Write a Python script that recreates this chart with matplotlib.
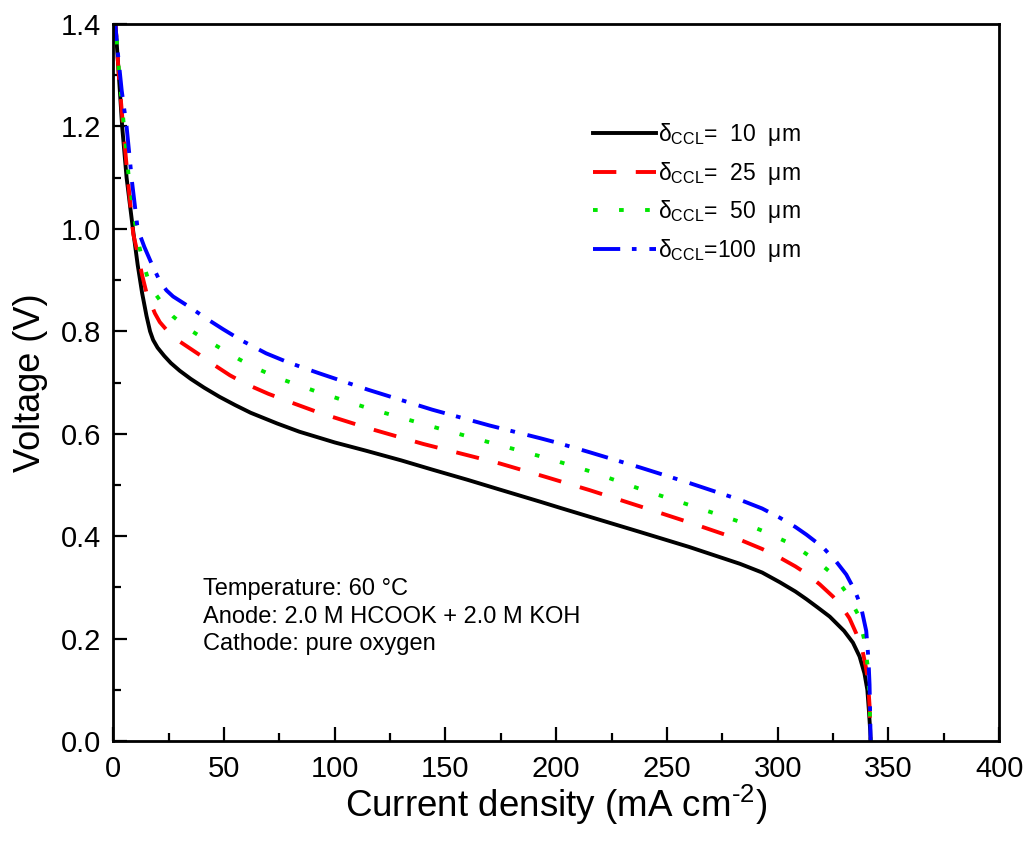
import matplotlib
matplotlib.use("Agg")
import matplotlib.pyplot as plt
from matplotlib.ticker import MultipleLocator, FormatStrFormatter

plt.rcParams['font.family'] = ['Liberation Sans', 'DejaVu Sans']
plt.rcParams['mathtext.fontset'] = 'custom'
plt.rcParams['mathtext.rm'] = 'Liberation Sans'
plt.rcParams['mathtext.it'] = 'Liberation Sans:italic'
plt.rcParams['mathtext.bf'] = 'Liberation Sans:bold'

# ---- data ----
x_10 = [0.5, 1, 2.5, 4, 6, 9, 11, 13, 15, 16.6, 18, 20, 23, 26, 30, 35, 41, 48, 55, 62, 74,
        84, 100, 114, 130, 144, 160, 174.5, 193, 202, 215, 238, 260, 283, 293, 301, 308, 313,
        318, 323.5, 330, 334, 337, 339.2, 340.5, 341.2, 341.8, 342]
v_10 = [1.42, 1.398, 1.30, 1.2, 1.10, 0.995, 0.93, 0.875, 0.83, 0.80, 0.783, 0.768, 0.752,
        0.738, 0.723, 0.707, 0.69, 0.672, 0.656, 0.641, 0.620, 0.604, 0.583, 0.567, 0.548,
        0.530, 0.510, 0.491, 0.467, 0.455, 0.438, 0.408, 0.379, 0.346, 0.329, 0.310, 0.292,
        0.277, 0.261, 0.243, 0.215, 0.192, 0.165, 0.132, 0.10, 0.06, 0.02, 0.0]

x_25 = [0.5, 1, 2.5, 4.4, 6.5, 9, 10.5, 13, 15, 18.8, 21, 24, 30, 39, 46, 52.7, 60, 70, 81,
        93, 115, 140, 160, 174.5, 195, 215, 238, 260, 283, 293, 301, 308, 313, 319, 325, 329,
        332.4, 335.5, 338.4, 339.8, 340.7, 341.5, 342]
v_25 = [1.42, 1.40, 1.30, 1.2, 1.10, 0.99, 0.962, 0.91, 0.875, 0.835, 0.818, 0.803, 0.78,
        0.754, 0.733, 0.714, 0.697, 0.678, 0.660, 0.641, 0.611, 0.580, 0.558, 0.542, 0.516,
        0.490, 0.458, 0.427, 0.393, 0.375, 0.358, 0.341, 0.327, 0.306, 0.282, 0.262, 0.240,
        0.21, 0.175, 0.145, 0.12, 0.07, 0.0]

x_50 = [0.5, 1, 2.7, 4.8, 7, 9.5, 11.5, 13.5, 16, 18.5, 21, 24, 27, 33.8, 40, 49.6, 57, 65,
        75, 83.5, 92, 115, 144, 170, 197, 215, 238, 260, 283, 294, 304, 311, 317.5, 323.4, 327,
        331, 336.2, 339, 340.7, 341.5, 342]
v_50 = [1.42, 1.40, 1.30, 1.2, 1.10, 1.02, 0.97, 0.933, 0.898, 0.876, 0.861, 0.843, 0.829,
        0.805, 0.788, 0.764, 0.745, 0.727, 0.708, 0.695, 0.682, 0.650, 0.614, 0.583, 0.551,
        0.527, 0.492, 0.461, 0.428, 0.409, 0.389, 0.371, 0.352, 0.331, 0.314, 0.29, 0.248, 0.2,
        0.145, 0.08, 0.0]

x_100 = [0.5, 1.9, 3.8, 6, 8.5, 11, 14, 17.3, 21, 24, 27, 34.6, 42, 49.6, 58, 69, 78, 87, 93,
         115, 144, 170, 193, 200, 215, 238, 260, 283, 293, 301, 308, 313, 320.5, 326.5, 331,
         334.7, 337.5, 340, 341, 341.5, 342]
v_100 = [1.42, 1.35, 1.27, 1.2, 1.09, 1.0, 0.965, 0.932, 0.898, 0.88, 0.868, 0.847, 0.825,
         0.804, 0.782, 0.757, 0.741, 0.727, 0.718, 0.686, 0.647, 0.616, 0.591, 0.583, 0.564,
         0.534, 0.504, 0.471, 0.454, 0.436, 0.418, 0.403, 0.378, 0.350, 0.325, 0.295, 0.265,
         0.215, 0.16, 0.11, 0.0]

labels = [r'$\mathregular{\delta_{CCL}}$=  10  μm',
          r'$\mathregular{\delta_{CCL}}$=  25  μm',
          r'$\mathregular{\delta_{CCL}}$=  50  μm',
          r'$\mathregular{\delta_{CCL}}$=100  μm']

fig = plt.figure(figsize=(10.3, 8.55), dpi=100)
ax = fig.add_axes([0.110, 0.1333, 0.860, 0.8386])

lw = 2.8
ax.plot(x_10, v_10, color='black', lw=lw, ls='-', label=labels[0])
ax.plot(x_25, v_25, color='#ff0000', lw=lw, ls=(0, (6, 5)), label=labels[1])
ax.plot(x_50, v_50, color='#00e600', lw=lw, ls=(0, (1.2, 5.5)), label=labels[2])
ax.plot(x_100, v_100, color='#0000ff', lw=lw, ls=(0, (7, 3, 1.2, 3.3)), label=labels[3])

ax.set_xlim(0, 400)
ax.set_ylim(0, 1.4)
ax.xaxis.set_major_locator(MultipleLocator(50))
ax.xaxis.set_minor_locator(MultipleLocator(25))
ax.yaxis.set_major_locator(MultipleLocator(0.2))
ax.yaxis.set_minor_locator(MultipleLocator(0.1))
ax.yaxis.set_major_formatter(FormatStrFormatter('%.1f'))
ax.tick_params(which='both', direction='in', top=False, right=False, width=1.6, labelsize=21)
ax.tick_params(which='major', length=10)
ax.tick_params(which='minor', length=5.5)
ax.tick_params(axis='x', which='major', pad=10)
ax.tick_params(axis='y', which='major', pad=9)
for s in ax.spines.values():
    s.set_linewidth(2.0)

ax.set_xlabel(r'Current density (mA cm$^{\mathregular{\text{-}2}}$)', fontsize=26.5, labelpad=0)
ax.set_ylabel('Voltage (V)', fontsize=26, labelpad=9)

ax.legend(loc='upper left', bbox_to_anchor=(0.518, 0.893), frameon=False, fontsize=16.5,
          handlelength=2.75, handletextpad=0.1, labelspacing=0.5)

ax.text(40.5, 0.318, 'Temperature: 60 °C\nAnode: 2.0 M HCOOK + 2.0 M KOH\nCathode: pure oxygen',
        fontsize=17, va='top', ha='left', linespacing=1.33)

fig.savefig('out.png', dpi=100)
